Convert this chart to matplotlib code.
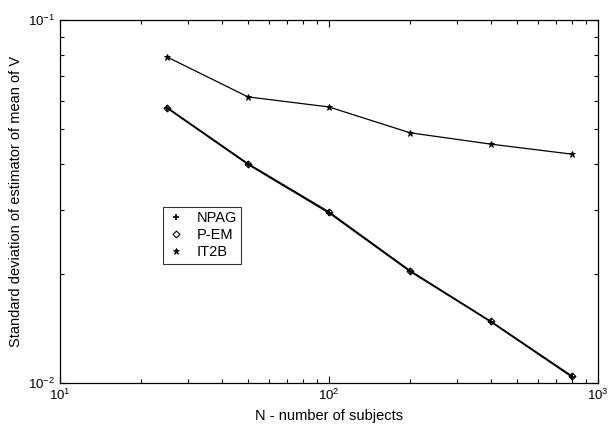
import matplotlib
matplotlib.use('Agg')
import matplotlib.pyplot as plt
from matplotlib.ticker import NullFormatter

plt.rcParams['font.family'] = ['Liberation Sans', 'DejaVu Sans']

# number of subjects
n = [25, 50, 100, 200, 400, 800]
# standard deviation of estimator of mean of V
npag = [0.0572, 0.0400, 0.0294, 0.0203, 0.01473, 0.01039]
pem = [0.0574, 0.0402, 0.0296, 0.0204, 0.01478, 0.01045]
it2b = [0.0791, 0.0614, 0.0576, 0.0489, 0.0455, 0.0427]

fig = plt.figure(figsize=(6.09, 4.29), dpi=100)
ax = fig.add_axes([60/609, 1 - 383/429, 538/609, 363/429])

# lines
ax.plot(n, npag, '-', color='k', lw=1.0)
ax.plot(n, pem, '-', color='k', lw=1.0)
ax.plot(n, it2b, '-', color='k', lw=0.9)
# markers
ax.plot(n, npag, '+', color='k', ms=5, mew=1.2, label='NPAG')
ax.plot(n, pem, 'D', color='k', mfc='none', ms=3.5, mew=0.8, label='P-EM')
ax.plot(n, it2b, '*', color='k', ms=5, mew=0.6, label='IT2B')

ax.set_xscale('log')
ax.set_yscale('log')
ax.set_xlim(10, 1000)
ax.set_ylim(0.01, 0.1)
ax.yaxis.set_minor_formatter(NullFormatter())
ax.xaxis.set_minor_formatter(NullFormatter())

ax.tick_params(which='both', direction='in', top=True, right=True, labelsize=9.5)
ax.tick_params(which='major', length=5, width=0.8)
ax.tick_params(which='minor', length=3, width=0.8)
for s in ax.spines.values():
    s.set_linewidth(0.9)

ax.set_xlabel('N - number of subjects', fontsize=10.5)
ax.set_ylabel('Standard deviation of estimator of mean of V', fontsize=10.5)

leg = ax.legend(loc='upper left', bbox_to_anchor=(103/538, (383-207)/363),
                fontsize=10.5, frameon=True, fancybox=False, edgecolor='k',
                handlelength=1.2, handletextpad=0.8, borderpad=0.3,
                labelspacing=0.2, borderaxespad=0)
leg.get_frame().set_linewidth(0.8)

fig.savefig('out.png', dpi=100)
